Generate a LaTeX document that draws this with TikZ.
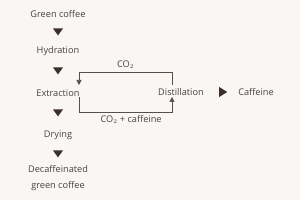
\documentclass[tikz,border=0pt]{standalone}
\usepackage{fontspec}
\setmainfont{Open Sans}
\usetikzlibrary{arrows.meta,shapes.geometric}
\definecolor{bgc}{HTML}{F9F6F3}
\definecolor{txt}{HTML}{4A4241}
\definecolor{ln}{HTML}{5A4E4A}
\definecolor{tri}{HTML}{3B2F2C}
\begin{document}
\begin{tikzpicture}[x=1pt,y=-1pt,
  lbl/.style={text=txt,font=\fontsize{9.2}{11}\selectfont,inner sep=0pt,align=center},
  small/.style={text=txt,font=\fontsize{9.2}{10}\selectfont,inner sep=0pt},
  downtri/.style={fill=tri,isosceles triangle,shape border rotate=270,isosceles triangle stretches,minimum width=10pt,minimum height=7pt,inner sep=0pt},
  righttri/.style={fill=tri,isosceles triangle,isosceles triangle stretches,minimum width=10pt,minimum height=8pt,inner sep=0pt},
  arr/.style={draw=ln,line width=0.7pt,-{Triangle[width=5pt,length=5pt]}}]
\fill[bgc] (0,0) rectangle (300,200);
\useasboundingbox (0,0) rectangle (300,200);
\node[lbl] (gc) at (58,14) {Green coffee};
\node[downtri] (t1) at (58,31) {};
\node[lbl] (hyd) at (58,51) {Hydration};
\node[downtri] (t2) at (58,70) {};
\node[lbl] (ext) at (58,93) {Extraction};
\node[downtri] (t3) at (58,112) {};
\node[lbl] (dry) at (58,135) {Drying};
\node[downtri] (t4) at (58,153) {};
\node[lbl] (dec) at (58,178) {Decaffeinated\\[5pt]green coffee};
\node[lbl] (dist) at (181,92) {Distillation};
\node[righttri] (t5) at (222,92) {};
\node[lbl] (caf) at (256,92) {Caffeine};
\coordinate (dTop) at (172,85);
\coordinate (eTop) at (79,85);
\coordinate (eBot) at (79,97);
\coordinate (dBot) at (172,97);
\draw[arr] (dTop) -- (172,72) -- node[small,above=3pt,pos=0.5] (co2) {CO$_2$} (79,72) -- (eTop);
\draw[arr] (eBot) -- (79,112) -- node[small,below=3pt,pos=0.56] (co2c) {CO$_2$ + caffeine} (172,112) -- (dBot);
\end{tikzpicture}
\end{document}
